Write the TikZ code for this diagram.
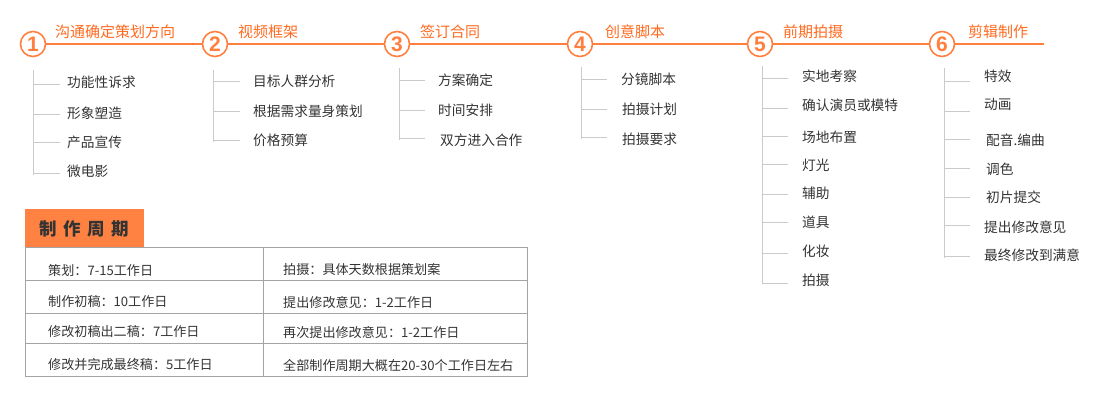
\documentclass[tikz,border=0pt]{standalone}
\usepackage{fontspec}
\setmainfont{Noto Sans CJK SC}
\newfontfamily\numfont{Liberation Sans}
\usepackage{tikz}

\definecolor{lineorange}{HTML}{FF7F3F}
\definecolor{titleorange}{HTML}{FF6A1F}
\definecolor{boxorange}{HTML}{FF8242}
\definecolor{twiggrey}{HTML}{CACACA}
\definecolor{gridgrey}{HTML}{A4A4A4}
\definecolor{darktext}{HTML}{333333}

\tikzset{
  num/.style={shape=circle,draw=lineorange,line width=1.6pt,fill=white,minimum size=25pt,inner sep=0pt,text=lineorange,font=\numfont\bfseries\fontsize{21}{21}\selectfont},
  phase/.style={anchor=west,inner sep=0pt,text=titleorange,font=\fontsize{15}{15}\selectfont},
  item/.style={anchor=west,inner sep=0pt,text=darktext,font=\fontsize{13.7}{13.7}\selectfont},
  cell/.style={anchor=west,inner sep=0pt,text=darktext,font=\fontsize{13.1}{13.1}\selectfont},
  mainline/.style={draw=lineorange,line width=1.5pt},
  stem/.style={draw=twiggrey,line width=1pt},
  branch/.style={draw=twiggrey,line width=1pt,shorten >=13pt},
  grid/.style={draw=gridgrey,line width=0.9pt}
}

\begin{document}
\begin{tikzpicture}[x=1pt,y=-1pt]
        \useasboundingbox (0,0) rectangle (1102,403);

        % steps on the main line
        \node[num] (c1) at (33,44)  {1};
        \node[num] (c2) at (215,44) {2};
        \node[num] (c3) at (397,44) {3};
        \node[num] (c4) at (580,44) {4};
        \node[num] (c5) at (760,44) {5};
        \node[num] (c6) at (942,44) {6};
        \coordinate (lend) at (1044,44);

        \path[mainline] (c1) edge (c2);
        \path[mainline] (c2) edge (c3);
        \path[mainline] (c3) edge (c4);
        \path[mainline] (c4) edge (c5);
        \path[mainline] (c5) edge (c6);
        \path[mainline] (c6) edge (lend);

        \node[phase] (t1) at (55,32)  {沟通确定策划方向};
        \node[phase] (t2) at (238,32) {视频框架};
        \node[phase] (t3) at (420,32) {签订合同};
        \node[phase] (t4) at (605,32) {创意脚本};
        \node[phase] (t5) at (783,32) {前期拍摄};
        \node[phase] (t6) at (968,32) {剪辑制作};

        % column 1
        \coordinate (s1t) at (33,70);
        \coordinate (s1b) at (33,175);
        \path[stem] (s1t) edge (s1b);
        \node[item] (a1) at (67,82)  {功能性诉求};
        \node[item] (a2) at (67,113) {形象塑造};
        \node[item] (a3) at (67,142) {产品宣传};
        \node[item] (a4) at (67,171) {微电影};
        \coordinate (ka1) at (33,85);
        \coordinate (ka2) at (33,115);
        \coordinate (ka3) at (33,143);
        \coordinate (ka4) at (33,174);
        \path[branch,shorten >=7pt] (ka1) edge (ka1 -| a1.west);
        \path[branch,shorten >=7pt] (ka2) edge (ka2 -| a2.west);
        \path[branch,shorten >=7pt] (ka3) edge (ka3 -| a3.west);
        \path[branch,shorten >=7pt] (ka4) edge (ka4 -| a4.west);

        % column 2
        \coordinate (s2t) at (213,70);
        \coordinate (s2b) at (213,142);
        \path[stem] (s2t) edge (s2b);
        \node[item] (b1) at (253,81)  {目标人群分析};
        \node[item] (b2) at (253,111) {根据需求量身策划};
        \node[item] (b3) at (253,140) {价格预算};
        \coordinate (kb1) at (213,82);
        \coordinate (kb2) at (213,112);
        \coordinate (kb3) at (213,141);
        \path[branch] (kb1) edge (kb1 -| b1.west);
        \path[branch] (kb2) edge (kb2 -| b2.west);
        \path[branch] (kb3) edge (kb3 -| b3.west);

        % column 3
        \coordinate (s3t) at (399,68);
        \coordinate (s3b) at (399,140);
        \path[stem] (s3t) edge (s3b);
        \node[item] (d1) at (438,80)  {方案确定};
        \node[item] (d2) at (438,110) {时间安排};
        \node[item] (d3) at (440,140) {双方进入合作};
        \coordinate (kd1) at (399,81);
        \coordinate (kd2) at (399,111);
        \coordinate (kd3) at (399,139);
        \path[branch] (kd1) edge (kd1 -| d1.west);
        \path[branch] (kd2) edge (kd2 -| d2.west);
        \path[branch,shorten >=15pt] (kd3) edge (kd3 -| d3.west);

        % column 4
        \coordinate (s4t) at (581,67);
        \coordinate (s4b) at (581,139);
        \path[stem] (s4t) edge (s4b);
        \node[item] (e1) at (621,79)  {分镜脚本};
        \node[item] (e2) at (622,109) {拍摄计划};
        \node[item] (e3) at (622,139) {拍摄要求};
        \coordinate (ke1) at (581,80);
        \coordinate (ke2) at (581,110);
        \coordinate (ke3) at (581,138);
        \path[branch,shorten >=14pt] (ke1) edge (ke1 -| e1.west);
        \path[branch,shorten >=15pt] (ke2) edge (ke2 -| e2.west);
        \path[branch,shorten >=15pt] (ke3) edge (ke3 -| e3.west);

        % column 5
        \coordinate (s5t) at (762,66);
        \coordinate (s5b) at (762,284);
        \path[stem] (s5t) edge (s5b);
        \node[item] (f1) at (802,76)  {实地考察};
        \node[item] (f2) at (802,105) {确认演员或模特};
        \node[item] (f3) at (802,137) {场地布置};
        \node[item] (f4) at (802,165) {灯光};
        \node[item] (f5) at (802,193) {辅助};
        \node[item] (f6) at (802,222) {道具};
        \node[item] (f7) at (802,251) {化妆};
        \node[item] (f8) at (802,280) {拍摄};
        \coordinate (kf1) at (762,79);
        \coordinate (kf2) at (762,109);
        \coordinate (kf3) at (762,137);
        \coordinate (kf4) at (762,165);
        \coordinate (kf5) at (762,195);
        \coordinate (kf6) at (762,223);
        \coordinate (kf7) at (762,254);
        \coordinate (kf8) at (762,283);
        \path[branch,shorten >=14pt] (kf1) edge (kf1 -| f1.west);
        \path[branch,shorten >=14pt] (kf2) edge (kf2 -| f2.west);
        \path[branch,shorten >=14pt] (kf3) edge (kf3 -| f3.west);
        \path[branch,shorten >=14pt] (kf4) edge (kf4 -| f4.west);
        \path[branch,shorten >=14pt] (kf5) edge (kf5 -| f5.west);
        \path[branch,shorten >=14pt] (kf6) edge (kf6 -| f6.west);
        \path[branch,shorten >=14pt] (kf7) edge (kf7 -| f7.west);
        \path[branch,shorten >=14pt] (kf8) edge (kf8 -| f8.west);

        % column 6
        \coordinate (s6t) at (944,68);
        \coordinate (s6b) at (944,258);
        \path[stem] (s6t) edge (s6b);
        \node[item] (g1) at (984,76)  {特效};
        \node[item] (g2) at (984,104) {动画};
        \node[item] (g3) at (986,140) {配音.编曲};
        \node[item] (g4) at (986,169) {调色};
        \node[item] (g5) at (986,197) {初片提交};
        \node[item] (g6) at (984,227) {提出修改意见};
        \node[item] (g7) at (984,255) {最终修改到满意};
        \coordinate (kg1) at (944,82);
        \coordinate (kg2) at (944,112);
        \coordinate (kg3) at (944,140);
        \coordinate (kg4) at (944,169);
        \coordinate (kg5) at (944,198);
        \coordinate (kg6) at (944,226);
        \coordinate (kg7) at (944,257);
        \path[branch,shorten >=14pt] (kg1) edge (kg1 -| g1.west);
        \path[branch,shorten >=14pt] (kg2) edge (kg2 -| g2.west);
        \path[branch,shorten >=16pt] (kg3) edge (kg3 -| g3.west);
        \path[branch,shorten >=16pt] (kg4) edge (kg4 -| g4.west);
        \path[branch,shorten >=16pt] (kg5) edge (kg5 -| g5.west);
        \path[branch,shorten >=14pt] (kg6) edge (kg6 -| g6.west);
        \path[branch,shorten >=14pt] (kg7) edge (kg7 -| g7.west);

        % schedule table
        \node[anchor=north west,fill=boxorange,minimum width=119pt,minimum height=39pt,inner sep=0pt,text=darktext,font=\bfseries\fontsize{17.5}{17.5}\selectfont] (hd) at (25,209) {制\hspace{6.5pt}作\hspace{6.5pt}周\hspace{6.5pt}期};
        \draw[grid] (25,247) rectangle (527,376);
        \draw[grid] (25,280) -- (527,280);
        \draw[grid] (25,313) -- (527,313);
        \draw[grid] (25,343) -- (527,343);
        \draw[grid] (263,247) -- (263,376);

        \node[cell] (r1a) at (48,270) {策划：7-15工作日};
        \node[cell] (r2a) at (48,302) {制作初稿：10工作日};
        \node[cell] (r3a) at (48,332) {修改初稿出二稿：7工作日};
        \node[cell] (r4a) at (48,365) {修改并完成最终稿：5工作日};
        \node[cell] (r1b) at (283,270) {拍摄：具体天数根据策划案};
        \node[cell] (r2b) at (283,302) {提出修改意见：1-2工作日};
        \node[cell] (r3b) at (283,332) {再次提出修改意见：1-2工作日};
        \node[cell] (r4b) at (283,365) {全部制作周期大概在20-30个工作日左右};
\end{tikzpicture}
\end{document}
